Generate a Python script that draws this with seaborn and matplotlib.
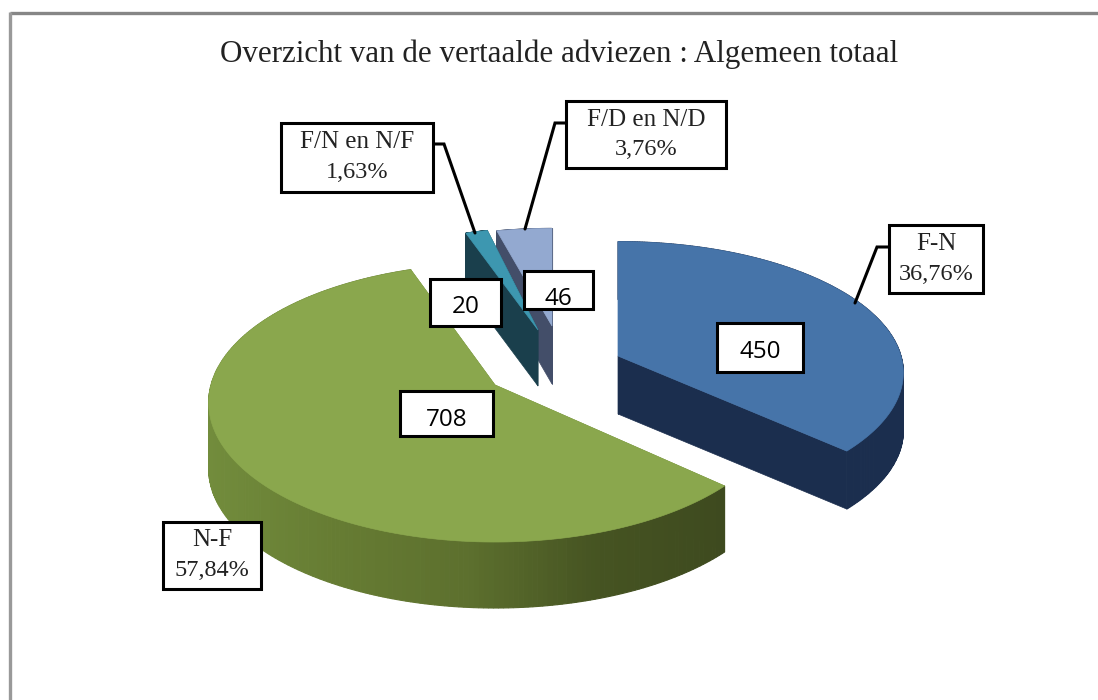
import numpy as np
import matplotlib
matplotlib.use("Agg")
import matplotlib.pyplot as plt
import seaborn as sns

#Chart data
slice_names = ['F-N', 'N-F', 'F/N en N/F', 'F/D en N/D']
counts = [450, 708, 20, 46]
percents = ['36,76%', '57,84%', '1,63%', '3,76%']
title = 'Overzicht van de vertaalde adviezen : Algemeen totaal'

#Colours of each slice
top_colors = ['#4674a9', '#8aa74d', '#3d97b0', '#93a9d0']
side_colors = [['#1b2e4e', '#1b2e4e'],
               ['#728c3c', '#667c33', '#5d702e', '#465422', '#3e4a1f'],
               ['#1a3f4c', '#1a3f4c'],
               ['#434e69', '#434e69']]

#Layout in pixels: apex of every exploded slice, radius and thickness
apex_x = [618, 495, 538, 552]
apex_y = [356, 385, 330, 326]
radius_x = [283, 284, 243, 265]
radius_y = [129, 137, 115, 110]
depth = [58, 66, 56, 58]
tilt = 0.1275

sns.set_theme(style="white")
plt.rcParams['font.family'] = ['Liberation Serif', 'DejaVu Serif']

fig = plt.figure(figsize=(10.98, 7.0), dpi=100)
ax = fig.add_axes([0, 0, 1, 1])
ax.set_xlim(0, 1098)
ax.set_ylim(700, 0)
ax.axis('off')

#Outer frame, cut off at the right and bottom of the picture
ax.plot([1098, 10], [13, 13], color='#868686', lw=2.4, solid_capstyle='butt')
ax.plot([10, 10], [12, 700], color='#999999', lw=2.4, solid_capstyle='butt')


def project(theta, i):
    #theta is clockwise from 12 o'clock, the front of the pie is drawn larger
    u = np.sin(theta)
    v = -np.cos(theta)
    w = 1 - tilt * v
    return apex_x[i] + radius_x[i] * u / w, apex_y[i] + radius_y[i] * v / w


shares = np.array(counts) / sum(counts)
edges = np.concatenate([[0], np.cumsum(shares)]) * 2 * np.pi

#Small slices first so that the big ones stay in front
for i in [3, 2, 0, 1]:
    theta = np.linspace(edges[i], edges[i + 1], 240)
    x, y = project(theta, i)
    d = depth[i]
    cx, cy = apex_x[i], apex_y[i]
    side = sns.blend_palette(side_colors[i], len(theta))

    #the two cut faces
    for ex, ey in [(x[0], y[0]), (x[-1], y[-1])]:
        ax.fill([cx, ex, ex, cx], [cy, ey, ey + d, cy + d], color=side_colors[i][0], lw=0.5)

    #outer wall, one thin strip per step
    for j in range(len(theta) - 1):
        ax.fill([x[j], x[j + 1], x[j + 1], x[j]],
                [y[j], y[j + 1], y[j + 1] + d, y[j] + d],
                color=side[int(np.interp(x[j], [x.min(), x.max()], [0, len(side) - 1]))], lw=0.8)

    #top of the slice
    ax.fill(np.r_[cx, x], np.r_[cy, y], color=top_colors[i], lw=0.5)

#Leader lines from the name boxes to the slices
leader = dict(color='black', lw=2.2, solid_joinstyle='miter')
ax.plot([433, 444, 475], [144, 144, 233], **leader)
ax.plot([566, 555, 525], [123, 123, 229], **leader)
ax.plot([889, 877, 855], [247, 247, 303], **leader)


def box(x0, x1, y0, y1):
    ax.fill([x0, x1, x1, x0], [y0, y0, y1, y1], facecolor='white', edgecolor='black', lw=2.2,
            joinstyle='miter', zorder=5)


#Boxes with name and percentage
name_boxes = [(889, 983, 225, 293), (163, 261, 522, 589), (281, 433, 123, 192), (566, 726, 101, 168)]
for i, (x0, x1, y0, y1) in enumerate(name_boxes):
    box(x0, x1, y0, y1)
    mid = (y0 + y1) / 2
    ax.text((x0 + x1) / 2, mid - 15, slice_names[i], ha='center', va='center', fontsize=18,
            color='#222222', zorder=6)
    ax.text((x0 + x1) / 2, mid + 15, percents[i], ha='center', va='center', fontsize=17.5,
            color='#222222', zorder=6)

#Boxes with the counts
value_boxes = [(717, 803, 323, 372), (400, 493, 391, 436), (430, 501, 279, 326), (524, 593, 271, 309)]
value_y = [352, 420, 307, 299]
for i, (x0, x1, y0, y1) in enumerate(value_boxes):
    box(x0, x1, y0, y1)
    ax.text((x0 + x1) / 2, value_y[i], str(counts[i]), ha='center', va='center', fontsize=17.5,
            family='Open Sans', color='black', zorder=6)

ax.text(559, 54, title, ha='center', va='center', fontsize=22.3, color='#222222')

fig.savefig('out.png', dpi=100)
